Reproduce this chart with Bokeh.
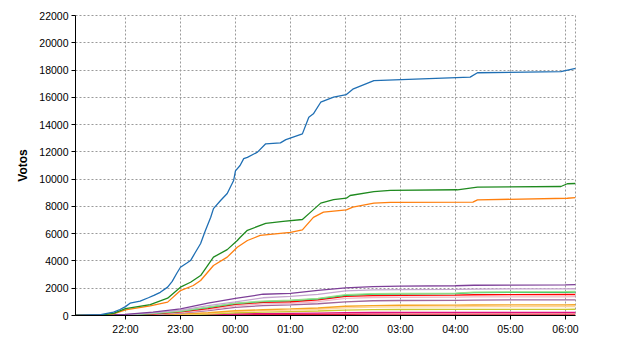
import pandas as pd
from bokeh.plotting import figure
from bokeh.models import FixedTicker, DatetimeTickFormatter, Range1d
from bokeh.embed import file_html
from bokeh.resources import INLINE

# ---------------- data ----------------
blue_t = ["21:05", "21:33", "21:47", "21:54", "22:00", "22:05", "22:16", "22:25", "22:31", "22:38",
          "22:46", "22:51", "22:56", "23:00", "23:07", "23:11", "23:16", "23:22", "23:27", "23:33",
          "23:36", "23:44", "23:51", "23:58", "00:00", "00:05", "00:09", "00:13", "00:24", "00:33",
          "00:49", "00:55", "01:13", "01:20", "01:25", "01:33", "01:47", "02:01", "02:08", "02:31",
          "04:16", "04:24", "05:55", "06:11"]
blue_v = [0, 60, 250, 440, 650, 900, 1050, 1300, 1470, 1700,
          2080, 2500, 3100, 3540, 3850, 4030, 4600, 5280, 6200, 7200,
          7840, 8450, 8950, 9900, 10600, 11000, 11500, 11600, 11980, 12590,
          12660, 12900, 13320, 14540, 14790, 15640, 16010, 16200, 16600, 17230,
          17480, 17800, 17890, 18130]

green_t = ["21:05", "21:33", "21:47", "22:00", "22:27", "22:46", "23:00", "23:11", "23:22", "23:36",
           "23:51", "00:02", "00:05", "00:13", "00:33", "00:52", "01:13", "01:22", "01:33", "01:47",
           "02:01", "02:05", "02:31", "02:49", "04:02", "04:24", "05:55", "06:02", "06:11"]
green_v = [0, 30, 150, 500, 800, 1270, 2080, 2440, 2930, 4280,
           4830, 5500, 5720, 6250, 6750, 6900, 7040, 7580, 8240, 8500,
           8600, 8800, 9090, 9170, 9220, 9410, 9460, 9660, 9680]

orange_t = ["21:05", "21:33", "21:47", "22:00", "22:27", "22:46", "23:00", "23:14", "23:22", "23:36",
            "23:51", "00:02", "00:13", "00:27", "01:00", "01:13", "01:25", "01:36", "02:01", "02:08",
            "02:31", "02:49", "04:19", "04:24", "06:02", "06:11"]
orange_v = [0, 20, 120, 420, 700, 980, 1830, 2200, 2570, 3670,
            4280, 5000, 5500, 5870, 6100, 6280, 7200, 7580, 7750, 7940,
            8240, 8290, 8310, 8480, 8600, 8650]

small_t = ["21:05", "22:00", "22:30", "23:00", "23:30", "00:00", "00:30", "01:00", "01:30",
           "02:00", "02:30", "03:00", "04:00", "04:20", "05:00", "06:00", "06:11"]
purple_v = [0, 80, 250, 480, 900, 1250, 1560, 1620, 1850, 2030, 2120, 2150, 2180, 2220, 2230, 2240, 2260]
lilac_v = [0, 60, 200, 400, 720, 1000, 1300, 1400, 1550, 1800, 1880, 1900, 1920, 1940, 1950, 1950, 1960]
lightgreen_v = [0, 50, 150, 330, 620, 900, 1060, 1120, 1260, 1530, 1600, 1620, 1640, 1720, 1730, 1750, 1760]
green2_v = [0, 45, 140, 310, 580, 880, 1020, 1090, 1220, 1480, 1570, 1590, 1600, 1680, 1690, 1700, 1710]
red_v = [0, 40, 110, 260, 500, 820, 960, 1010, 1150, 1400, 1460, 1480, 1500, 1520, 1530, 1540, 1540]
pink_v = [0, 30, 90, 220, 420, 700, 850, 900, 1010, 1250, 1320, 1340, 1350, 1360, 1370, 1370, 1380]
mauve_v = [0, 20, 70, 180, 350, 600, 720, 780, 860, 1000, 1080, 1100, 1110, 1130, 1140, 1150, 1150]
gold_v = [0, 10, 40, 100, 200, 350, 420, 480, 550, 680, 730, 750, 760, 770, 780, 780, 790]
peach_v = [0, 10, 30, 80, 160, 280, 350, 400, 460, 560, 610, 630, 640, 650, 650, 660, 660]
olive_v = [0, 5, 20, 50, 110, 200, 250, 290, 330, 400, 430, 440, 445, 450, 450, 455, 460]
magenta_v = [0, 3, 10, 30, 60, 110, 140, 160, 180, 210, 220, 225, 228, 230, 230, 232, 235]
crimson_v = [0, 2, 5, 15, 30, 50, 60, 70, 80, 90, 95, 98, 100, 100, 100, 100, 100]

y_ticks = [0, 2000, 4000, 6000, 8000, 10000, 12000, 14000, 16000, 18000, 20000, 22000]
x_tick_labels = ["22:00", "23:00", "00:00", "01:00", "02:00", "03:00", "04:00", "05:00", "06:00"]

BASE = pd.Timestamp("2011-05-22")


def to_dt(hhmm):
    h, m = map(int, hhmm.split(":"))
    day = 0 if h >= 12 else 1
    return BASE + pd.Timedelta(days=day, hours=h, minutes=m)


def conv(ts):
    return [to_dt(t) for t in ts]


p = figure(width=640, height=350, x_axis_type="datetime", output_backend="svg",
           toolbar_location=None,
           x_range=Range1d(to_dt("21:05") + pd.Timedelta(seconds=30),
                           to_dt("06:10") + pd.Timedelta(seconds=55)),
           y_range=Range1d(0, 22000),
           min_border_left=75, min_border_right=65, min_border_top=15, min_border_bottom=35)
p.background_fill_color = "white"
p.border_fill_color = "white"
p.outline_line_color = "#9a9a9a"
p.outline_line_dash = "2 2"

small = [
    (crimson_v, "#e8203a"), (magenta_v, "#e0107f"), (olive_v, "#c8c830"), (peach_v, "#ffd49a"),
    (gold_v, "#f5a623"), (mauve_v, "#a0659a"), (pink_v, "#f0b8c8"), (red_v, "#ff0000"),
    (green2_v, "#22c060"), (lightgreen_v, "#98df8a"), (lilac_v, "#c5a5cf"), (purple_v, "#7d3f98"),
]
for vals, col in small:
    p.line(conv(small_t), vals, line_color=col, line_width=1.3)

p.line(conv(orange_t), orange_v, line_color="#ff7f0e", line_width=1.3)
p.line(conv(green_t), green_v, line_color="#1f8a1f", line_width=1.3)
p.line(conv(blue_t), blue_v, line_color="#1f6fb4", line_width=1.3)

# axes
p.yaxis.ticker = FixedTicker(ticks=y_ticks)
x_ticks = [to_dt(t).value / 1e6 for t in x_tick_labels]
p.xaxis.ticker = FixedTicker(ticks=x_ticks)
fmt = "%H:%M"
p.xaxis.formatter = DatetimeTickFormatter(hours=fmt, hourmin=fmt, minutes=fmt, minsec=fmt,
                                          seconds=fmt, days=fmt, months=fmt, years=fmt)
for ax in (p.xaxis, p.yaxis):
    ax.axis_line_color = "black"
    ax.axis_line_width = 1
    ax.major_tick_line_color = "black"
    ax.major_tick_out = 4
    ax.major_tick_in = 0
    ax.minor_tick_line_color = None
    ax.major_label_text_font = "Liberation Sans"
    ax.major_label_text_font_size = "10.5px"
    ax.major_label_text_color = "black"
    ax.major_label_standoff = 3
p.yaxis.axis_label = "Votos"
p.yaxis.axis_label_text_font = "Liberation Sans"
p.yaxis.axis_label_text_font_size = "12px"
p.yaxis.axis_label_text_font_style = "bold"
p.yaxis.axis_label_text_color = "black"
p.yaxis.axis_label_standoff = 6

p.grid.grid_line_color = "#9a9a9a"
p.grid.grid_line_dash = "2 2"
p.grid.grid_line_width = 1

open("out.html", "w").write(file_html(p, INLINE))
